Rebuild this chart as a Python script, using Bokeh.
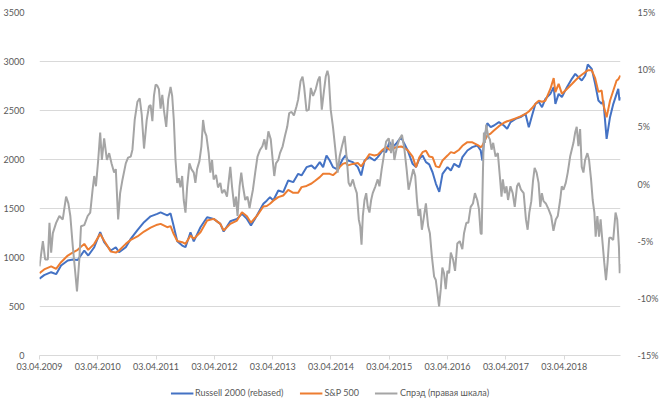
from bokeh.plotting import figure
from bokeh.layouts import column
from bokeh.models import (Range1d, LinearAxis, FixedTicker, Legend, LegendItem,
                          PrintfTickFormatter, CustomJSTickFormatter)
from bokeh.embed import file_html
from bokeh.resources import INLINE

# ---- data (time in decimal years) ----
tick_pos = [2009.252, 2010.252, 2011.252, 2012.252, 2013.252,
            2014.252, 2015.252, 2016.252, 2017.252, 2018.252]
tick_labels = ["03.04.2009", "03.04.2010", "03.04.2011", "03.04.2012", "03.04.2013",
               "03.04.2014", "03.04.2015", "03.04.2016", "03.04.2017", "03.04.2018"]

t_idx = [
    2009.252, 2009.332, 2009.452, 2009.537, 2009.622, 2009.737, 2009.827, 2009.907,
    2010.020, 2010.088, 2010.191, 2010.293, 2010.361, 2010.476, 2010.561, 2010.617, 2010.732, 2010.817, 2010.932,
    2011.045, 2011.158, 2011.272, 2011.329, 2011.443, 2011.500, 2011.546, 2011.615, 2011.700, 2011.756, 2011.842, 2011.898,
    2012.013, 2012.127, 2012.240, 2012.354, 2012.411, 2012.525, 2012.639, 2012.725, 2012.810, 2012.879, 2012.981,
    2013.092, 2013.150, 2013.206, 2013.262, 2013.348, 2013.433, 2013.519, 2013.604, 2013.689, 2013.747, 2013.833, 2013.918, 2013.975,
    2014.060, 2014.117, 2014.175, 2014.230, 2014.286, 2014.344, 2014.400, 2014.456, 2014.502, 2014.541, 2014.627, 2014.712, 2014.770, 2014.827, 2014.912, 2014.998,
    2015.054, 2015.139, 2015.197, 2015.254, 2015.310, 2015.368, 2015.454, 2015.510, 2015.567, 2015.652, 2015.710, 2015.766, 2015.823, 2015.881, 2015.937, 2015.994,
    2016.052, 2016.109, 2016.165, 2016.250, 2016.308, 2016.365, 2016.450, 2016.506, 2016.592, 2016.677, 2016.762, 2016.820, 2016.848, 2016.877, 2016.933, 2016.991,
    2017.047, 2017.133, 2017.218, 2017.274, 2017.332, 2017.418, 2017.503, 2017.588, 2017.645, 2017.701, 2017.759, 2017.816, 2017.872, 2017.930,
    2018.015, 2018.072, 2018.101, 2018.157, 2018.213, 2018.299, 2018.384, 2018.442, 2018.498, 2018.554, 2018.612, 2018.657, 2018.725, 2018.783, 2018.839, 2018.895, 2018.924, 2018.980,
    2019.038, 2019.095, 2019.151, 2019.180, 2019.200, 2019.218,
]

russell = [
    785, 820, 850, 830, 918, 969, 980, 975,
    1071, 1020, 1105, 1258, 1156, 1071, 1105, 1054, 1105, 1190, 1280,
    1360, 1420, 1445, 1460, 1430, 1450, 1340, 1165, 1122, 1105, 1258, 1165,
    1309, 1411, 1394, 1343, 1265, 1370, 1394, 1445, 1394, 1326, 1428,
    1548, 1580, 1616, 1582, 1684, 1667, 1786, 1769, 1854, 1837, 1922, 1939, 1905,
    1973, 1922, 2041, 1990, 1922, 1905, 1939, 2007, 2041, 1990, 1973, 1922, 1837, 1990, 2024, 1990,
    2024, 2092, 2075, 2177, 2126, 2160, 2228, 2160, 2092, 1956, 1922, 2007, 2041, 1973, 1950, 1870,
    1752, 1670, 1854, 1922, 1888, 1956, 1922, 2024, 2092, 2126, 2143, 2092, 1990, 2194, 2371, 2330,
    2347, 2381, 2347, 2313, 2381, 2415, 2432, 2466, 2330, 2449, 2568, 2590, 2534, 2619,
    2670, 2738, 2568, 2670, 2636, 2738, 2823, 2874, 2840, 2806, 2857, 2969, 2925, 2772, 2602, 2568, 2602, 2211,
    2432, 2568, 2670, 2721, 2602, 2636,
]

spx = [
    840, 878, 910, 884, 952, 1020, 1052, 1078,
    1139, 1078, 1139, 1241, 1170, 1060, 1050, 1071, 1139, 1180, 1215,
    1265, 1305, 1335, 1343, 1309, 1320, 1250, 1168, 1156, 1139, 1224, 1190,
    1258, 1377, 1394, 1343, 1275, 1343, 1377, 1462, 1420, 1355, 1425,
    1520, 1525, 1548, 1580, 1616, 1633, 1690, 1660, 1660, 1718, 1730, 1755, 1780,
    1820, 1854, 1854, 1854, 1840, 1870, 1922, 1955, 1965, 1940, 1955, 1965, 1930, 1980, 2055, 2040,
    2050, 2100, 2126, 2100, 2105, 2126, 2133, 2120, 2095, 2030, 1922, 2020, 2075, 2090, 2030, 2024,
    1930, 1920, 1990, 2040, 2075, 2065, 2100, 2140, 2177, 2175, 2150, 2126, 2140, 2177, 2245, 2265,
    2295, 2340, 2375, 2390, 2400, 2420, 2440, 2466, 2490, 2525, 2568, 2600, 2590, 2600,
    2720, 2830, 2687, 2772, 2670, 2720, 2770, 2806, 2840, 2865, 2891, 2910, 2910, 2830, 2690, 2704, 2560, 2430,
    2600, 2704, 2806, 2818, 2840, 2857,
]

t_spread = [
    2009.252, 2009.310, 2009.349, 2009.395, 2009.423, 2009.452, 2009.481, 2009.537, 2009.593, 2009.651, 2009.708, 2009.747, 2009.781, 2009.822, 2009.861, 2009.895, 2009.935, 2009.964,
    2010.020, 2010.078, 2010.122, 2010.163, 2010.191, 2010.220, 2010.259, 2010.293, 2010.322, 2010.361, 2010.408, 2010.447, 2010.488, 2010.532, 2010.561, 2010.601, 2010.635, 2010.676, 2010.732, 2010.771, 2010.817, 2010.846, 2010.885, 2010.932, 2010.971,
    2011.005, 2011.045, 2011.091, 2011.130, 2011.158, 2011.188, 2011.215, 2011.244, 2011.272, 2011.300, 2011.329, 2011.358, 2011.385, 2011.426, 2011.460, 2011.500, 2011.528, 2011.556, 2011.585, 2011.614, 2011.641, 2011.670, 2011.699, 2011.726, 2011.756, 2011.785, 2011.824, 2011.858, 2011.898, 2011.926, 2011.955, 2011.995,
    2012.029, 2012.058, 2012.085, 2012.115, 2012.154, 2012.183, 2012.212, 2012.239, 2012.280, 2012.314, 2012.354, 2012.383, 2012.422, 2012.468, 2012.525, 2012.554, 2012.593, 2012.622, 2012.649, 2012.684, 2012.713, 2012.742, 2012.781, 2012.820, 2012.855, 2012.879, 2012.913, 2012.952, 2012.991,
    2013.036, 2013.075, 2013.110, 2013.139, 2013.178, 2013.219, 2013.252, 2013.279, 2013.308, 2013.348, 2013.377, 2013.423, 2013.462, 2013.501, 2013.535, 2013.576, 2013.616, 2013.661, 2013.689, 2013.730, 2013.764, 2013.791, 2013.832, 2013.871, 2013.906, 2013.945, 2013.991,
    2014.030, 2014.060, 2014.094, 2014.128, 2014.162, 2014.191, 2014.213, 2014.247, 2014.286, 2014.327, 2014.366, 2014.400, 2014.440, 2014.486, 2014.525, 2014.554, 2014.583, 2014.627, 2014.656, 2014.695, 2014.729, 2014.753, 2014.776, 2014.798, 2014.827, 2014.856, 2014.883, 2014.912, 2014.941, 2014.968,
    2015.014, 2015.054, 2015.083, 2015.122, 2015.156, 2015.197, 2015.242, 2015.283, 2015.310, 2015.339, 2015.385, 2015.424, 2015.470, 2015.510, 2015.549, 2015.583, 2015.624, 2015.663, 2015.697, 2015.726, 2015.753, 2015.782, 2015.811, 2015.839, 2015.880, 2015.919, 2015.948, 2015.982,
    2016.021, 2016.050, 2016.077, 2016.106, 2016.135, 2016.162, 2016.191, 2016.220, 2016.249, 2016.278, 2016.307, 2016.346, 2016.380, 2016.419, 2016.460, 2016.505, 2016.534, 2016.573, 2016.607, 2016.648, 2016.687, 2016.721, 2016.761, 2016.790, 2016.819, 2016.836, 2016.858, 2016.875, 2016.892, 2016.914, 2016.948, 2016.977,
    2017.006, 2017.034, 2017.075, 2017.114, 2017.148, 2017.177, 2017.199, 2017.233, 2017.262, 2017.289, 2017.330, 2017.369, 2017.404, 2017.443, 2017.472, 2017.511, 2017.557, 2017.596, 2017.625, 2017.654, 2017.688, 2017.716, 2017.745, 2017.779, 2017.813, 2017.842, 2017.869, 2017.898, 2017.937, 2017.983,
    2018.029, 2018.068, 2018.108, 2018.142, 2018.183, 2018.210, 2018.240, 2018.279, 2018.313, 2018.354, 2018.382, 2018.411, 2018.440, 2018.467, 2018.496, 2018.525, 2018.553, 2018.582, 2018.611, 2018.650, 2018.679, 2018.713, 2018.741, 2018.770, 2018.792, 2018.821, 2018.850, 2018.877, 2018.906, 2018.940, 2018.969, 2018.996,
    2019.025, 2019.054, 2019.093, 2019.133, 2019.162, 2019.191, 2019.205, 2019.218,
]

spread = [
    -7.2, -5.0, -6.6, -6.6, -3.4, -6.0, -4.3, -3.4, -2.8, -3.1, -1.1, -1.7, -2.8, -5.4, -7.5, -9.4, -6.6, -3.7,
    -3.6, -2.8, -2.5, -0.5, 0.7, -0.2, 2.1, 4.5, 2.1, 4.0, 2.1, 2.7, 1.8, 1.0, 1.3, -3.1, -0.8, 0.4, 1.8, 2.3, 2.4, 3.0, 5.6, 7.2, 7.5,
    6.1, 3.1, 5.6, 6.8, 6.9, 5.5, 7.7, 8.7, 8.6, 8.3, 6.6, 7.8, 6.5, 5.0, 7.4, 8.5, 7.7, 5.6, 2.1, 0.1, 0.5, -0.3, 0.7, -1.4, -2.5, -0.2, 1.8, 1.3, 1.0, 0.1, 1.3, 2.0,
    3.3, 5.6, 4.6, 4.2, 2.7, 1.0, 2.1, 0.4, 0.8, -0.3, 0.1, -0.8, -0.5, -1.1, 1.5, -0.2, -2.0, -1.1, -2.8, -0.2, 1.0, -0.2, -1.4, -1.1, -2.1, -1.4, -0.5, 1.0, 2.4,
    3.0, 3.3, 3.9, 3.0, 4.6, 3.9, 2.1, 0.7, 1.8, 2.1, 2.7, 3.3, 4.2, 5.0, 6.2, 6.3, 6.0, 6.8, 7.4, 9.0, 9.4, 8.5, 6.4, 6.5, 8.4, 7.7, 8.3,
    9.1, 9.4, 6.5, 8.0, 9.4, 9.9, 9.4, 6.5, 5.0, 3.0, 1.0, 2.4, 3.3, 4.2, 2.1, 0.1, -0.2, 0.4, -0.2, -0.8, -3.1, -3.7, -5.3, -2.8, -1.4, -0.8, -2.0, -2.5, -1.4, -0.8,
    -0.2, 0.4, -0.2, 1.3, 2.4, 3.7, 4.0, 2.7, 3.9, 2.1, 3.3, 3.9, 4.3, 3.1, 1.3, -0.5, 0.4, 1.3, 0.7, -1.4, -2.8, -2.2, -4.0, -3.1, -1.7, -3.7, -4.3, -6.3,
    -8.1, -8.4, -9.5, -10.7, -9.2, -7.3, -7.8, -9.2, -7.6, -7.8, -6.0, -6.6, -7.6, -5.2, -5.0, -5.7, -4.3, -3.4, -3.4, -2.0, -1.7, -0.8, -1.4, -2.2, -4.3, -4.4, 1.0, 4.5, 3.6, 5.2, 4.2, 3.9,
    3.0, 3.6, 2.4, 2.7, 0.7, -1.1, 0.4, -0.8, -0.2, -1.4, -0.2, -0.8, -2.0, -0.2, 0.1, -0.5, -0.8, -3.1, -4.0, -2.5, -1.5, 0.2, 1.4, 1.0, 0.1, -2.0, -0.8, -1.5, -1.7, -2.2,
    -2.8, -4.1, -3.1, -2.8, -1.4, -0.2, -0.5, 0.1, 1.0, 2.4, 3.0, 3.6, 4.5, 5.0, 3.3, 4.8, 1.5, 1.0, 2.1, 2.7, 2.1, 0.4, -1.4, -2.5, -4.6, -2.8, -4.6, -3.1, -4.9, -6.9, -8.4, -6.9,
    -4.7, -4.7, -4.9, -2.5, -3.1, -5.5, -7.8, -7.0,
]

left_ticks = [0, 500, 1000, 1500, 2000, 2500, 3000, 3500]
right_ticks = [-15, -10, -5, 0, 5, 10, 15]
series_names = ["Russell 2000 (rebased)", "S&P 500", "Спрэд (правая шкала)"]
series_colors = ["#4472C4", "#ED7D31", "#A5A5A5"]

assert len(t_idx) == len(russell) == len(spx), (len(t_idx), len(russell), len(spx))
assert len(t_spread) == len(spread), (len(t_spread), len(spread))

FONT = "Lato"
TXT = "#595959"
FS = "9px"

# ---------------- main chart ----------------
p = figure(width=661, height=377, output_backend="svg", toolbar_location=None,
           x_range=Range1d(tick_pos[0], t_idx[-1]), y_range=Range1d(0, 3500),
           min_border_left=38, min_border_right=39, min_border_top=12, min_border_bottom=22)
p.outline_line_color = None
p.background_fill_color = "white"
p.border_fill_color = "white"
p.extra_y_ranges = {"pct": Range1d(-15, 15)}

p.xgrid.visible = False
p.ygrid.grid_line_color = "#D9D9D9"
p.ygrid.grid_line_width = 1

xa = p.xaxis[0]
xa.ticker = FixedTicker(ticks=tick_pos)
xa.formatter = CustomJSTickFormatter(args=dict(pos=tick_pos, lab=tick_labels), code="""
const i = pos.findIndex(v => Math.abs(v - tick) < 1e-6);
return i >= 0 ? lab[i] : '';
""")
xa.axis_line_color = "#D9D9D9"
xa.major_tick_line_color = "#D9D9D9"
xa.major_tick_out = 4
xa.major_tick_in = 0
xa.minor_tick_line_color = None
xa.major_label_standoff = 3
xa.major_label_text_font = FONT
xa.major_label_text_font_size = FS
xa.major_label_text_color = TXT

ya = p.yaxis[0]
ya.ticker = FixedTicker(ticks=left_ticks)
ya.axis_line_color = None
ya.major_tick_line_color = None
ya.minor_tick_line_color = None
ya.major_label_standoff = 9
ya.major_label_text_font = FONT
ya.major_label_text_font_size = FS
ya.major_label_text_color = TXT

ra = LinearAxis(y_range_name="pct", ticker=FixedTicker(ticks=right_ticks),
                formatter=PrintfTickFormatter(format="%d%%"))
ra.axis_line_color = None
ra.major_tick_line_color = None
ra.minor_tick_line_color = None
ra.major_label_standoff = 11
ra.major_label_text_font = FONT
ra.major_label_text_font_size = FS
ra.major_label_text_color = TXT
p.add_layout(ra, "right")

p.line(t_idx, russell, line_color=series_colors[0], line_width=2)
p.line(t_idx, spx, line_color=series_colors[1], line_width=2)
p.line(t_spread, spread, line_color=series_colors[2], line_width=2, y_range_name="pct")

# ---------------- legend strip ----------------
lg = figure(width=661, height=31, output_backend="svg", toolbar_location=None,
            x_axis_type=None, y_axis_type=None, x_range=Range1d(0, 1), y_range=Range1d(0, 1),
            min_border_left=0, min_border_right=0, min_border_top=0, min_border_bottom=0)
lg.outline_line_color = None
lg.grid.visible = False
lg.border_fill_color = "white"
# the series again, all far outside this strip's ranges: only their legend glyphs show
lr1 = lg.line(t_idx, russell, line_color=series_colors[0], line_width=2)
lr2 = lg.line(t_idx, spx, line_color=series_colors[1], line_width=2)
lr3 = lg.line(t_spread, spread, line_color=series_colors[2], line_width=2)
items = [LegendItem(label=n, renderers=[r]) for n, r in zip(series_names, [lr1, lr2, lr3])]
legend = Legend(items=items, orientation="horizontal", location="center",
                border_line_color=None, background_fill_alpha=0,
                label_text_font=FONT, label_text_font_size=FS, label_text_color=TXT,
                glyph_width=23, glyph_height=12, label_standoff=2, spacing=16,
                padding=0, margin=0)
lg.add_layout(legend)

open("out.html", "w").write(file_html(column(p, lg, spacing=0), INLINE))
